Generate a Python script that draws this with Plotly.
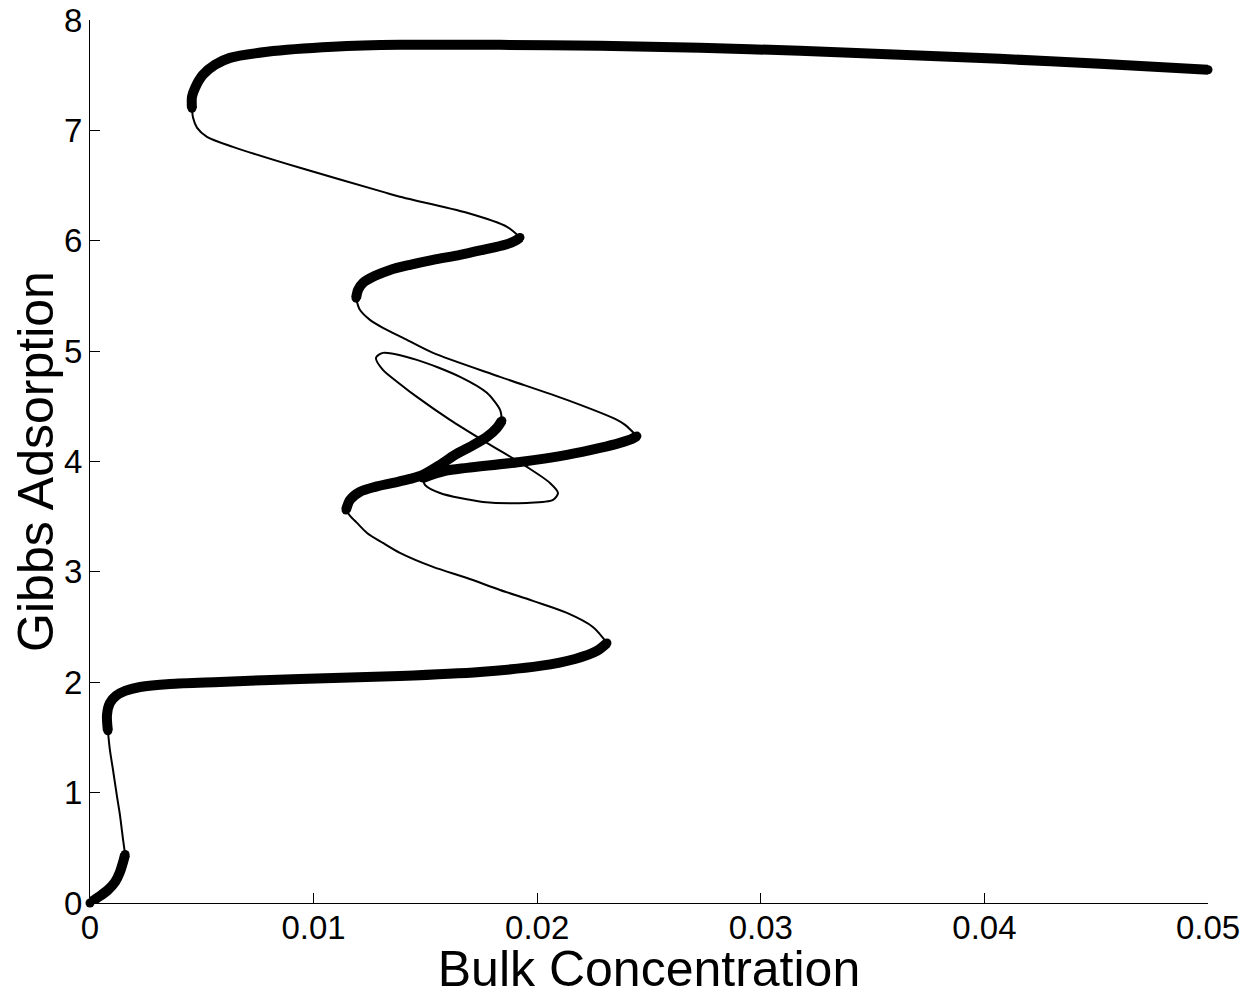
import plotly.graph_objects as go

# Branch segments of the adsorption curve (concentration, Gibbs adsorption)
# stable = thick line, unstable = thin line
seg1_x = [0.0, 0.000045, 0.00045, 0.0008, 0.00112, 0.00134, 0.00148, 0.00157]
seg1_y = [0.0, 0.009, 0.063, 0.118, 0.19, 0.281, 0.371, 0.44]

seg2_x = [0.00157, 0.00148, 0.00134, 0.00121, 0.00103, 0.00089, 0.0008]
seg2_y = [0.44, 0.571, 0.797, 0.961, 1.205, 1.387, 1.56]

seg3_x = [0.0008, 0.00076, 0.00089, 0.00116, 0.00157, 0.00224, 0.00358, 0.00581,
          0.00939, 0.01386, 0.01744, 0.02012, 0.02169, 0.02267, 0.02312]
seg3_y = [1.56, 1.704, 1.812, 1.876, 1.921, 1.957, 1.985, 2.003,
          2.03, 2.057, 2.093, 2.148, 2.211, 2.284, 2.356]

seg4_x = [0.02312, 0.02249, 0.02133, 0.01981, 0.01834, 0.01686, 0.01534, 0.01386,
          0.0131, 0.01239, 0.01194, 0.01163, 0.01145]
seg4_y = [2.356, 2.501, 2.628, 2.737, 2.836, 2.945, 3.045, 3.172,
          3.262, 3.353, 3.444, 3.507, 3.561]

seg5_x = [0.01145, 0.01163, 0.01207, 0.01275, 0.01355, 0.01431, 0.01489, 0.01565,
          0.01632, 0.01699, 0.01775, 0.0182, 0.01842]
seg5_y = [3.561, 3.652, 3.725, 3.77, 3.806, 3.842, 3.879, 3.969,
          4.06, 4.132, 4.223, 4.305, 4.37]

seg6_x = [0.01842, 0.01834, 0.01775, 0.01655, 0.01462, 0.0131, 0.01279, 0.0131,
          0.01386, 0.01462, 0.0161, 0.01775, 0.01954, 0.02057, 0.02093, 0.02071,
          0.01954, 0.01757, 0.01565, 0.01498, 0.01489]
seg6_y = [4.37, 4.468, 4.622, 4.767, 4.921, 4.984, 4.939, 4.83,
          4.703, 4.585, 4.377, 4.169, 3.951, 3.806, 3.715, 3.652,
          3.625, 3.634, 3.715, 3.788, 3.851]

seg7_x = [0.01489, 0.01588, 0.01686, 0.01923, 0.02133, 0.02281, 0.0237, 0.02424, 0.02446]
seg7_y = [3.851, 3.915, 3.942, 3.996, 4.06, 4.123, 4.169, 4.205, 4.23]

seg8_x = [0.02446, 0.02393, 0.02357, 0.02133, 0.01834, 0.01534, 0.014, 0.0131,
          0.01252, 0.01207, 0.0119]
seg8_y = [4.23, 4.332, 4.377, 4.558, 4.767, 4.984, 5.12, 5.211,
          5.283, 5.374, 5.48]

seg9_x = [0.0119, 0.01199, 0.01221, 0.01275, 0.01342, 0.01431, 0.01534, 0.01655,
          0.01757, 0.01856, 0.01901, 0.01923]
seg9_y = [5.48, 5.555, 5.618, 5.682, 5.736, 5.782, 5.827, 5.872,
          5.917, 5.963, 5.999, 6.03]

seg10_x = [0.01923, 0.01865, 0.01686, 0.01386, 0.0131, 0.00939, 0.00639, 0.00523,
           0.00479, 0.00461, 0.00456]
seg10_y = [6.03, 6.126, 6.253, 6.398, 6.443, 6.661, 6.851, 6.942,
           7.023, 7.114, 7.2]

seg11_x = [0.00456, 0.00456, 0.0047, 0.00505, 0.00559, 0.00626, 0.00792, 0.01087,
           0.01386, 0.01834, 0.02281, 0.02728, 0.03175, 0.03622, 0.04069, 0.04517, 0.05]
seg11_y = [7.2, 7.304, 7.386, 7.503, 7.594, 7.657, 7.712, 7.757,
           7.775, 7.775, 7.766, 7.748, 7.721, 7.685, 7.648, 7.603, 7.549]

segments = [
    (seg1_x, seg1_y, True), (seg2_x, seg2_y, False), (seg3_x, seg3_y, True),
    (seg4_x, seg4_y, False), (seg5_x, seg5_y, True), (seg6_x, seg6_y, False),
    (seg7_x, seg7_y, True), (seg8_x, seg8_y, False), (seg9_x, seg9_y, True),
    (seg10_x, seg10_y, False), (seg11_x, seg11_y, True),
]

x_ticks = [0, 0.01, 0.02, 0.03, 0.04, 0.05]
x_ticktext = ["0", "0.01", "0.02", "0.03", "0.04", "0.05"]
y_ticks = [0, 1, 2, 3, 4, 5, 6, 7, 8]

THICK = 10
THIN = 2

fig = go.Figure()
cap_x, cap_y = [], []
for sx, sy, stable in segments:
    w = THICK if stable else THIN
    fig.add_trace(go.Scatter(
        x=sx, y=sy, mode="lines",
        line=dict(color="black", width=w, shape="spline", smoothing=0.8),
        showlegend=False, hoverinfo="skip", cliponaxis=False,
    ))
    if stable:
        cap_x += [sx[0], sx[-1]]
        cap_y += [sy[0], sy[-1]]

# round caps at the ends of the thick (stable) branches
fig.add_trace(go.Scatter(
    x=cap_x, y=cap_y, mode="markers",
    marker=dict(color="black", size=THICK - 1, opacity=1, line=dict(width=0)),
    showlegend=False, hoverinfo="skip", cliponaxis=False,
))

font_family = "Liberation Sans, Arial, Helvetica, sans-serif"
# page body has an 8px default margin: plot area spans x 90..1208, y 20..903 on screen
fig.update_layout(
    width=1245, height=989,
    margin=dict(l=82, r=45, t=12, b=94),
    paper_bgcolor="white", plot_bgcolor="white",
    font=dict(family=font_family, color="black", size=33),
    showlegend=False,
)
fig.update_xaxes(
    range=[0, 0.05], tickvals=x_ticks, ticktext=x_ticktext,
    ticks="inside", ticklen=10, tickwidth=1, tickcolor="black",
    showline=True, linecolor="black", linewidth=1, mirror=False,
    showgrid=False, zeroline=False, automargin=False,
    tickfont=dict(size=33), ticklabelstandoff=-5, ticklabeloverflow="allow",
    title=dict(text="Bulk Concentration", font=dict(size=50), standoff=29),
)
fig.update_yaxes(
    range=[0, 8], tickvals=y_ticks,
    ticks="inside", ticklen=10, tickwidth=1, tickcolor="black",
    showline=True, linecolor="black", linewidth=1, mirror=False,
    showgrid=False, zeroline=False, automargin=False,
    tickfont=dict(size=33), ticklabelstandoff=0, ticklabeloverflow="allow",
    title=dict(text="Gibbs Adsorption", font=dict(size=50), standoff=4),
)

fig.write_html("out.html")
